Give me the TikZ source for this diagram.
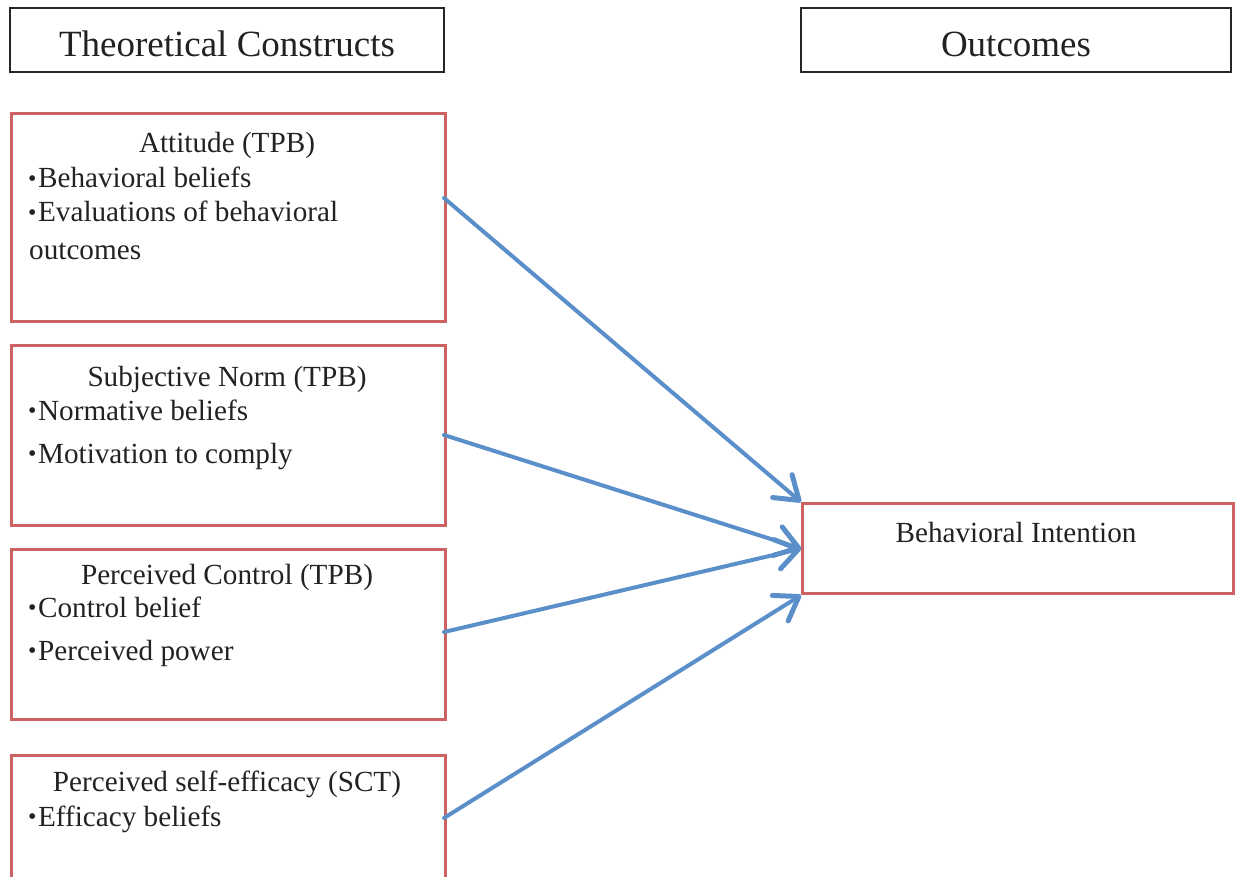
\documentclass[tikz,border=0pt]{standalone}
\usepackage{fontspec}
\setmainfont{Liberation Serif}
\usetikzlibrary{arrows.meta}
\definecolor{boxred}{HTML}{CC6262}
\definecolor{arrowblue}{HTML}{5B8FC9}
\definecolor{txt}{HTML}{222222}
\begin{document}
\begin{tikzpicture}[x=1pt,y=-1pt,
  headbox/.style={draw=black!85,line width=2.2pt},
  redbox/.style={draw=boxred,line width=3.2pt},
  headtxt/.style={font=\fontsize{37}{40}\selectfont,text=txt,anchor=base,inner sep=0pt},
  bodytxt/.style={font=\fontsize{29.2}{32}\selectfont,text=txt,inner sep=0pt},
  ttl/.style={bodytxt,anchor=base},
  itm/.style={bodytxt,anchor=base west},
  link/.style={draw=arrowblue,line width=4pt,line cap=round,-{Straight Barb[length=22pt,width=30pt,line width=5pt,round]}}
]
\useasboundingbox (0,0) rectangle (1238,877);
\newcommand{\bul}{{\fontsize{24}{24}\selectfont\raisebox{0.1ex}{•}}\hspace{1.5pt}}
% header boxes
\draw[headbox] (10,8) rectangle (444,72);
\node[headtxt] (thc) at (227,57) {Theoretical Constructs};
\draw[headbox] (801,8) rectangle (1231,72);
\node[headtxt] (out) at (1016,57) {Outcomes};
% construct boxes
\node[redbox,minimum width=434pt,minimum height=208pt,anchor=north west,inner sep=0pt] (att) at (10,112) {};
\node[redbox,minimum width=434pt,minimum height=180pt,anchor=north west,inner sep=0pt] (sn) at (10,344) {};
\node[redbox,minimum width=434pt,minimum height=170pt,anchor=north west,inner sep=0pt] (pc) at (10,548) {};
\node[redbox,minimum width=434pt,minimum height=140pt,anchor=north west,inner sep=0pt] (se) at (10,754) {};
\node[redbox,minimum width=431pt,minimum height=90pt,anchor=north west,inner sep=0pt] (bi) at (801,502) {};
% texts
\node[ttl] (att1) at (227,153) {Attitude (TPB)};
\node[itm] (att2) at (28,188) {\bul Behavioral beliefs};
\node[itm] (att3) at (28,222) {\bul Evaluations of behavioral};
\node[itm] (att4) at (29,259) {outcomes};
\node[ttl] (sn1) at (227,386) {Subjective Norm (TPB)};
\node[itm] (sn2) at (28,420) {\bul Normative beliefs};
\node[itm] (sn3) at (28,463) {\bul Motivation to comply};
\node[ttl] (pc1) at (227,584) {Perceived Control (TPB)};
\node[itm] (pc2) at (28,617) {\bul Control belief};
\node[itm] (pc3) at (28,660) {\bul Perceived power};
\node[ttl] (se1) at (227,791) {Perceived self-efficacy (SCT)};
\node[itm] (se2) at (28,826) {\bul Efficacy beliefs};
\node[ttl] (bi1) at (1016,542) {Behavioral Intention};
% connectors
\coordinate (a1) at (444,198);
\coordinate (a2) at (444,435);
\coordinate (a3) at (444,632);
\coordinate (a4) at (444,818);
\draw[link] (a1) -- (bi.north west);
\draw[link] (a2) -- (bi.west);
\draw[link] (a3) -- (bi.west);
\draw[link] (a4) -- (bi.south west);
\end{tikzpicture}
\end{document}
